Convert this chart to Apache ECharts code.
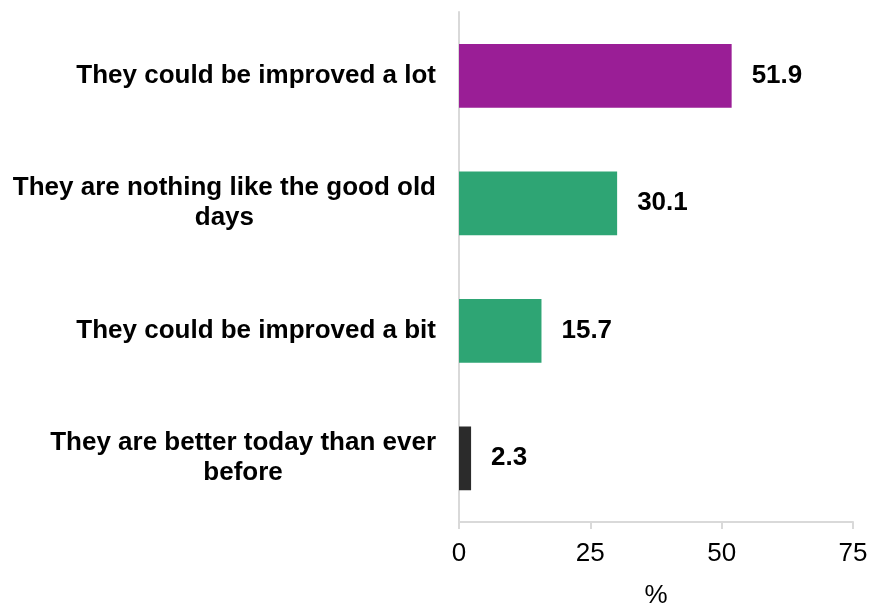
<!DOCTYPE html>
<html>
<head>
<meta charset="utf-8">
<script src="https://cdn.jsdelivr.net/npm/echarts@6/dist/echarts.min.js"></script>
<style>html,body{margin:0;padding:0;background:#fff;}#c{width:871px;height:603px;}</style>
</head>
<body>
<div id="c"></div>
<script>
var categories = [
  "They could be improved a lot",
  "They are nothing like the good old\ndays",
  "They could be improved a bit",
  "They are better today than ever\nbefore"
];
var values = [51.9, 30.1, 15.7, 2.3];
var barColors = ["#9A1E96", "#2EA574", "#2EA574", "#2B2B2B"];
var xTicks = [0, 25, 50, 75];
var xAxisName = "%";

var chart = echarts.init(document.getElementById('c'), null, {renderer: 'canvas'});
var font = '"Liberation Sans", Arial, sans-serif';
chart.setOption({
  animation: false,
  grid: {left: 459, right: 18, top: 12, bottom: 81, containLabel: false, outerBoundsMode: 'none'},
  xAxis: {
    type: 'value',
    min: xTicks[0], max: xTicks[xTicks.length - 1], interval: xTicks[1] - xTicks[0],
    name: xAxisName, nameLocation: 'middle', nameGap: 61,
    nameTextStyle: {fontFamily: font, fontSize: 26, color: '#000'},
    axisLine: {show: true, lineStyle: {color: '#d9d9d9', width: 2}},
    axisTick: {show: true, length: 7, lineStyle: {color: '#d9d9d9', width: 2}},
    splitLine: {show: false},
    axisLabel: {fontFamily: font, fontSize: 26, color: '#000', margin: 19}
  },
  yAxis: {
    type: 'category', data: categories, inverse: true,
    axisLine: {show: true, lineStyle: {color: '#d9d9d9', width: 2}},
    axisTick: {show: false},
    axisLabel: {
      margin: 23, align: 'right',
      formatter: function (v) {
        return v.split('\n').map(function (s) { return '{a|' + s + '}'; }).join('\n');
      },
      rich: {a: {fontFamily: font, fontSize: 26, fontWeight: 'bold', color: '#000', align: 'center', lineHeight: 30}}
    }
  },
  series: [{
    type: 'bar',
    data: values.map(function (v, i) { return {value: v, itemStyle: {color: barColors[i]}}; }),
    barWidth: '50%',
    label: {show: true, position: 'right', distance: 20, fontFamily: font, fontSize: 26, fontWeight: 'bold', color: '#000',
      formatter: function (p) { return p.value.toFixed(1); }}
  }]
});
</script>
</body>
</html>
